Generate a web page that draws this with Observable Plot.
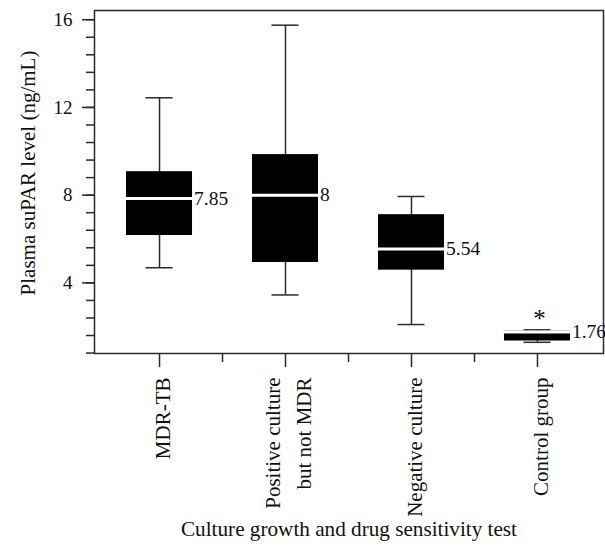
<!DOCTYPE html>
<html>
<head>
<meta charset="utf-8">
<script src="https://cdn.jsdelivr.net/npm/d3@7"></script>
<script src="https://cdn.jsdelivr.net/npm/@observablehq/plot@0.6"></script>
<style>
  html, body { margin: 0; padding: 0; background: #fff; }
</style>
</head>
<body>
<div id="chart"></div>
<script>
const categories = ["MDR-TB", "Positive culture\nbut not MDR", "Negative culture", "Control group"];
const whiskerLow = [4.69, 3.45, 2.10, 1.29];
const q1 = [6.16, 4.93, 4.58, 1.35];
const medians = [7.85, 8, 5.54, 1.76];
const q3 = [9.07, 9.85, 7.11, 1.80];
const whiskerHigh = [12.44, 15.75, 7.94, 1.86];
const medianLabels = ["7.85", "8", "5.54", "1.76"];
const markers = ["", "", "", "*"];
const yTicks = [4, 8, 12, 16];
const yMinorTicks = d3.range(1, 21).map(k => +(k * 0.8).toFixed(1));
const xTicks = [1, 2, 3, 4];
const xMinorTicks = [1.5, 2.5, 3.5];
const xTitle = "Culture growth and drug sensitivity test";
const yTitle = "Plasma suPAR level (ng/mL)";

const rows = categories.map((c, i) => ({
  pos: i + 1, lo: whiskerLow[i], q1: q1[i], med: medians[i], q3: q3[i], hi: whiskerHigh[i],
  label: medianLabels[i], marker: markers[i]
}));

const BOX = 0.262, CAP = 0.107;
const ink = "#2a2a2a";

const chart = Plot.plot({
  width: 605,
  height: 552,
  marginLeft: 94,
  marginRight: 2,
  marginTop: 10,
  marginBottom: 199,
  x: {domain: [0.484, 4.524], label: null},
  y: {domain: [0.78, 16.42], label: null},
  style: {fontFamily: "'Liberation Serif', serif", fontSize: "20px", color: "#000", background: "#fff"},
  marks: [
    Plot.ruleX(rows, {x: "pos", y1: "lo", y2: "hi", stroke: ink, strokeWidth: 1.5}),
    Plot.ruleY(rows, {y: "lo", x1: d => d.pos - CAP, x2: d => d.pos + CAP, stroke: ink, strokeWidth: 1.5}),
    Plot.ruleY(rows, {y: "hi", x1: d => d.pos - CAP, x2: d => d.pos + CAP, stroke: ink, strokeWidth: 1.5}),
    Plot.rect(rows, {x1: d => d.pos - BOX, x2: d => d.pos + BOX, y1: "q1", y2: "q3", fill: "#000"}),
    Plot.ruleY(rows, {y: "med", x1: d => d.pos - BOX, x2: d => d.pos + BOX, stroke: "#fff", strokeWidth: 3}),
    Plot.text(rows, {x: d => d.pos + BOX, y: "med", text: "label", textAnchor: "start", dx: 1.5, fontSize: 19.5, fill: "#111"}),
    Plot.text(rows, {x: "pos", y: "hi", text: "marker", dy: -11, dx: 2, fontSize: 25, fill: "#111"}),
    Plot.axisY({ticks: yMinorTicks, tickSize: 8, tickFormat: () => "", stroke: ink, strokeWidth: 1.5, label: null}),
    Plot.axisY({ticks: yTicks, tickSize: 12, tickPadding: 10, fontSize: 19, stroke: ink, strokeWidth: 1.5, label: null, fill: "#111"}),
    Plot.axisX({ticks: xMinorTicks, tickSize: 9, tickFormat: () => "", stroke: ink, strokeWidth: 1.5, label: null}),
    Plot.axisX({ticks: xTicks, tickSize: 14, tickPadding: 10, tickRotate: -90, lineHeight: 1.5,
      tickFormat: d => categories[d - 1], fontSize: 21, stroke: ink, strokeWidth: 1.5, label: null, fill: "#111"}),
    Plot.frame({stroke: ink, strokeWidth: 1.5}),
    Plot.text([xTitle], {frameAnchor: "bottom", dy: 182, fontSize: 21.2, fill: "#111"}),
    Plot.text([yTitle], {frameAnchor: "left", textAnchor: "middle", rotate: -90, dx: -66, dy: -9, fontSize: 21, fill: "#111"})
  ]
});
document.getElementById("chart").appendChild(chart);
</script>
</body>
</html>
